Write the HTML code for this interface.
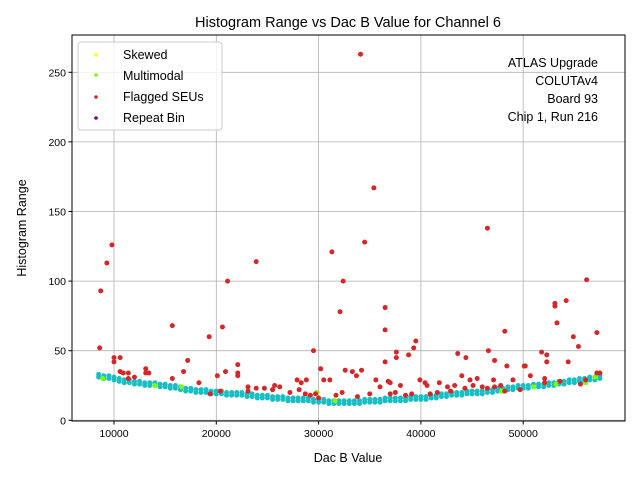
<!DOCTYPE html>
<html><head><meta charset="utf-8"><style>
body{margin:0;background:#fff}
svg{display:block;font-family:"Liberation Sans","DejaVu Sans",sans-serif}
</style></head><body>
<svg id="chart" width="640" height="480" viewBox="0 0 640 480">
<rect x="0" y="0" width="640" height="480" fill="#fff"/>
<text x="348" y="27" text-anchor="middle" font-size="14.5" fill="#000">Histogram Range vs Dac B Value for Channel 6</text>
<g id="grid"></g>
<g id="pts"></g>
<rect x="72" y="35" width="553" height="386" fill="none" stroke="#000" stroke-width="1"/>
<g id="ticks"></g>
<text x="348" y="462" text-anchor="middle" font-size="12.5">Dac B Value</text>
<text transform="translate(26,228) rotate(-90)" text-anchor="middle" font-size="12.5">Histogram Range</text>
<g font-size="12.5" text-anchor="end">
<text x="598" y="67">ATLAS Upgrade</text>
<text x="598" y="85">COLUTAv4</text>
<text x="598" y="103">Board 93</text>
<text x="598" y="121">Chip 1, Run 216</text>
</g>
<g>
<rect x="78" y="42" width="144" height="88" rx="3" fill="#fff" fill-opacity="0.8" stroke="#ccc"/>
<g><circle cx="96" cy="55" r="1.8" fill="#ffff00"/><text x="123" y="59" font-size="12.5">Skewed</text></g>
<g><circle cx="96" cy="75" r="1.8" fill="#7cfc00"/><text x="123" y="80" font-size="12.5">Multimodal</text></g>
<g><circle cx="96" cy="97" r="1.8" fill="#d62728"/><text x="123" y="101" font-size="12.5">Flagged SEUs</text></g>
<g><circle cx="96" cy="118" r="1.8" fill="#800080"/><text x="123" y="122" font-size="12.5">Repeat Bin</text></g>
</g>
</svg>
<script>
const xTicks=[10000,20000,30000,40000,50000];
const yTicks=[0,50,100,150,200,250];
const cyanStart=8500, cyanStep=500;
const cyanY=[31,30,30,29,28,27,27,26,26,25,25,25,24,24,23,23,22,21,21,20,20,20,19,19,19,18,18,18,18,17,17,16,16,16,15,15,15,14,14,14,14,14,13,13,13,12,12,12,12,12,12,12,13,13,13,13,14,14,14,14,14,15,15,15,15,16,16,17,17,18,18,18,19,19,19,19,20,20,21,21,22,22,23,23,23,24,24,24,25,25,26,26,27,27,28,28,29,29,30];
const redX=[8600,8700,9300,9800,10000,10000,10600,10600,10900,11400,11400,12000,13100,13100,13400,15700,15700,16800,17200,18300,19300,20100,20600,21100,20900,22100,22100,22100,23900,23100,23900,24700,25500,25700,26200,27900,28300,28100,28800,29500,30200,30500,31100,31300,31700,32100,32400,32600,33300,33700,34100,34200,34500,35400,35600,36000,36500,36500,36500,36800,37000,37600,37600,38000,38800,39300,39500,39900,40400,40600,41800,42600,43300,43600,44000,44400,44800,45100,45500,46500,46600,47100,47200,47800,48200,48400,49000,50100,50200,50700,51800,52100,52300,52300,53100,53100,53300,54200,54400,54900,55400,56200,57200,57200,57500,19400,20400,23100,27200,28700,29200,29700,30000,32300,33800,35000,37000,37500,38500,39100,40900,41600,42900,44300,46000,46500,47200,48200,49700,52100,53600,55600,56100];
const redY=[52,93,113,126,45,42,45,35,34,34,30,31,37,34,34,68,30,35,43,27,60,32,67,100,35,40,32,34,114,24,23,23,22,25,24,29,27,22,29,50,37,29,29,121,18,78,100,36,35,32,263,36,128,167,29,24,81,65,42,28,27,49,45,25,47,52,57,29,27,25,27,24,25,48,32,45,29,25,30,138,50,29,43,25,64,39,29,39,39,32,49,30,47,42,84,82,70,86,42,60,53,101,63,34,34,19,21,21,20,19,18,19,16,20,17,19,19,20,18,19,19,20,21,23,24,23,24,21,22,27,28,26,29];
const greenX=[8900,14000,16600,29800,31600,47900,51000,53200,56100,57000];
const greenY=[30,25,24,20,14,21,24,26,27,31];
const NS='http://www.w3.org/2000/svg';
const x0=72,x1=625,y0=35,y1=421;
function sx(v){return 11.7+v*0.01023;}
function sy(v){return 420.3-v*1.392;}
const grid=document.getElementById('grid'),ticks=document.getElementById('ticks'),pts=document.getElementById('pts');
function mk(tag,attrs,parent){const e=document.createElementNS(NS,tag);for(const k in attrs)e.setAttribute(k,attrs[k]);parent.appendChild(e);return e;}
xTicks.forEach(t=>{const x=sx(t);
 const g=mk('line',{x1:x,x2:x,y1:y0,y2:y1,stroke:'#b0b0b0','stroke-width':0.8},grid);
 
 
 mk('line',{x1:x,x2:x,y1:y1,y2:y1+3.5,stroke:'#000'},ticks);
 const l=mk('text',{x:x,y:y1+16,'text-anchor':'middle','font-size':10.5},ticks);l.textContent=t;
 
 });
yTicks.forEach(t=>{const y=sy(t);
 const g=mk('line',{x1:x0,x2:x1,y1:y,y2:y,stroke:'#b0b0b0','stroke-width':0.8},grid);
 
 
 mk('line',{x1:x0-3.5,x2:x0,y1:y,y2:y,stroke:'#000'},ticks);
 const l=mk('text',{x:x0-6,y:y+4,'text-anchor':'end','font-size':10.5},ticks);l.textContent=t;
 
 });
cyanY.forEach((v,i)=>{const xv=cyanStart+i*cyanStep;
 [v,v+2].forEach(w=>{const c=mk('circle',{cx:sx(xv),cy:sy(w),r:2.5,fill:'#17bfc4'},pts);
 
 });});
greenX.forEach((v,i)=>{const c=mk('circle',{cx:sx(v),cy:sy(greenY[i]),r:2.5,fill:'#7cfc00'},pts);
 
 });
redX.forEach((v,i)=>{const c=mk('circle',{cx:sx(v),cy:sy(redY[i]),r:2.5,fill:'#d62728'},pts);
 
 });
</script>
</body></html>
